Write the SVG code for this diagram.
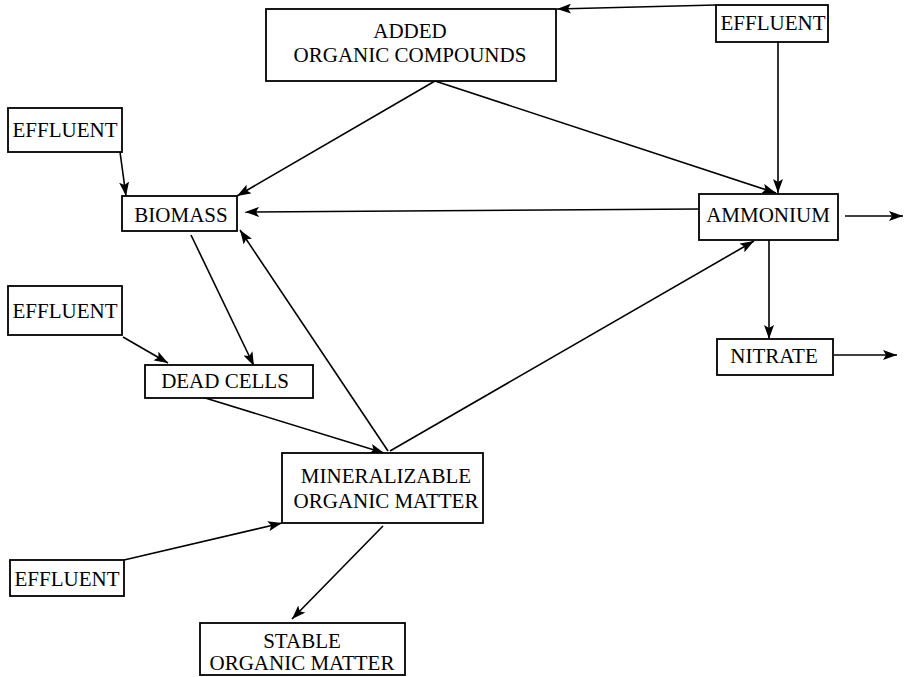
<svg xmlns="http://www.w3.org/2000/svg" width="907" height="677" viewBox="0 0 907 677">
<defs>
<marker id="ah" markerUnits="userSpaceOnUse" markerWidth="14" markerHeight="10" viewBox="0 0 14 10" refX="14" refY="5" orient="auto">
<path d="M0,0 L14,5 L0,10 L3,5 Z" fill="#000"/>
</marker>
</defs>
<style>
.box{fill:#fff;stroke:#000;stroke-width:1.8}
text{font-family:'Liberation Serif','Times New Roman',serif;font-size:21px;fill:#000;text-anchor:middle}
.c line{stroke:#000;stroke-width:1.6;marker-end:url(#ah)}
</style>
<rect width="907" height="677" fill="#fff"/>
<g class="c" id="connectors">
<line x1="716" y1="5" x2="557" y2="9"/>
<line x1="778" y1="42" x2="778" y2="193"/>
<line x1="435" y1="81" x2="237" y2="196"/>
<line x1="435" y1="81" x2="776" y2="193"/>
<line x1="699" y1="209" x2="245" y2="212"/>
<line x1="120" y1="152" x2="126" y2="196"/>
<line x1="191" y1="235" x2="254" y2="366"/>
<line x1="123" y1="337" x2="168" y2="363"/>
<line x1="202" y1="397" x2="384" y2="453"/>
<line x1="388" y1="451" x2="240" y2="230"/>
<line x1="390" y1="451" x2="754" y2="241"/>
<line x1="124" y1="560" x2="282" y2="523"/>
<line x1="383" y1="526" x2="292" y2="619"/>
<line x1="845" y1="216" x2="903" y2="216"/>
<line x1="769" y1="240" x2="769" y2="339"/>
<line x1="834" y1="355" x2="897" y2="355"/>
</g>
<g id="added">
<rect class="box" x="266" y="9" width="290" height="72"/>
<text x="410" y="38">ADDED</text>
<text x="410" y="62">ORGANIC COMPOUNDS</text>
</g>
<g id="effluent_tr">
<rect class="box" x="716" y="5" width="112" height="37"/>
<text x="773" y="30">EFFLUENT</text>
</g>
<g id="effluent_1">
<rect class="box" x="8" y="108" width="114" height="44"/>
<text x="65" y="137">EFFLUENT</text>
</g>
<g id="biomass">
<rect class="box" x="122" y="196" width="115" height="35"/>
<text x="181" y="222">BIOMASS</text>
</g>
<g id="ammonium">
<rect class="box" x="699" y="194" width="139" height="46"/>
<text x="768" y="222">AMMONIUM</text>
</g>
<g id="effluent_2">
<rect class="box" x="8" y="286" width="114" height="49"/>
<text x="65" y="318">EFFLUENT</text>
</g>
<g id="nitrate">
<rect class="box" x="717" y="339" width="116" height="36"/>
<text x="774" y="363">NITRATE</text>
</g>
<g id="dead_cells">
<rect class="box" x="145" y="365" width="168" height="33"/>
<text x="225" y="388">DEAD CELLS</text>
</g>
<g id="mineralizable">
<rect class="box" x="282" y="453" width="201" height="70"/>
<text x="386" y="483">MINERALIZABLE</text>
<text x="386" y="508">ORGANIC MATTER</text>
</g>
<g id="effluent_3">
<rect class="box" x="10" y="560" width="114" height="36"/>
<text x="67" y="586">EFFLUENT</text>
</g>
<g id="stable">
<rect class="box" x="200" y="623" width="205" height="52"/>
<text x="302" y="648">STABLE</text>
<text x="302" y="670">ORGANIC MATTER</text>
</g>
</svg>
